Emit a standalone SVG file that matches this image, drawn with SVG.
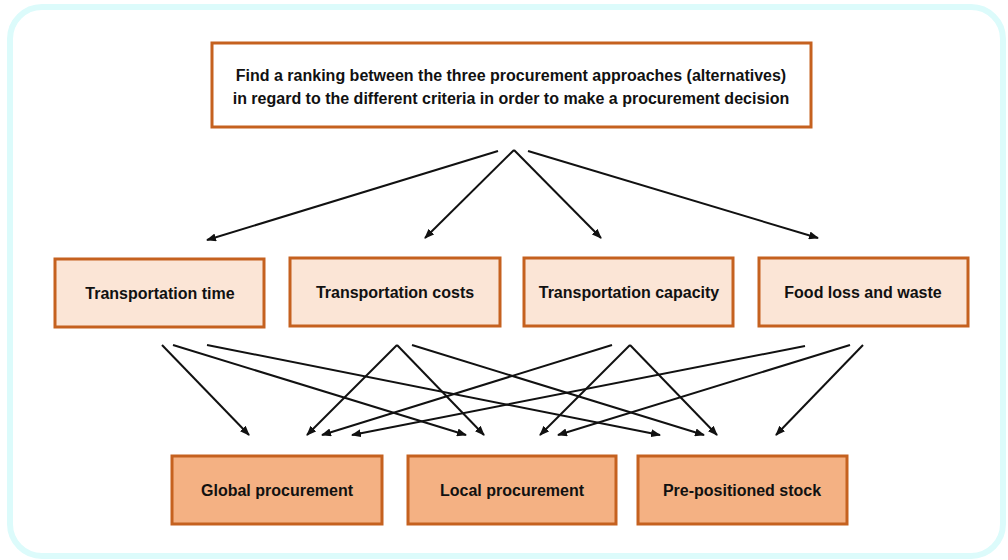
<svg xmlns="http://www.w3.org/2000/svg" width="1008" height="560" viewBox="0 0 1008 560">
<style>
.frame{fill:#ffffff;stroke:#dcfbfb;stroke-width:6}
.box{stroke:#c5611f;stroke-width:3}
.goal{fill:#ffffff}
.crit{fill:#fbe5d6}
.alt{fill:#f4b183}
.lbl{font-family:"Liberation Sans",Arial,sans-serif;font-weight:bold;font-size:16px;fill:#111111;text-anchor:middle}
.arr{stroke:#111111;stroke-width:2;fill:none;marker-end:url(#ah)}
</style>
<defs>
<marker id="ah" viewBox="0 0 10 8" refX="9" refY="4" markerWidth="10" markerHeight="8" markerUnits="userSpaceOnUse" orient="auto">
<path d="M0,0 L10,4 L0,8 Z" fill="#111111"/>
</marker>
</defs>
<rect class="frame" x="10" y="7" width="993" height="549" rx="32"/>
<g id="goal">
<rect class="box goal" x="212" y="43" width="599" height="84"/>
<text class="lbl" x="511" y="81">Find a ranking between the three procurement approaches (alternatives)</text>
<text class="lbl" x="511" y="104">in regard to the different criteria in order to make a procurement decision</text>
</g>
<g id="crit-time">
<rect class="box crit" x="55" y="259" width="209" height="68"/>
<text class="lbl" x="160" y="299">Transportation time</text>
</g>
<g id="crit-costs">
<rect class="box crit" x="290" y="258" width="210" height="68"/>
<text class="lbl" x="395" y="298">Transportation costs</text>
</g>
<g id="crit-capacity">
<rect class="box crit" x="524" y="258" width="209" height="68"/>
<text class="lbl" x="629" y="298">Transportation capacity</text>
</g>
<g id="crit-food">
<rect class="box crit" x="759" y="258" width="209" height="68"/>
<text class="lbl" x="863" y="298">Food loss and waste</text>
</g>
<g id="alt-global">
<rect class="box alt" x="172" y="456" width="210" height="68"/>
<text class="lbl" x="277" y="496">Global procurement</text>
</g>
<g id="alt-local">
<rect class="box alt" x="408" y="456" width="208" height="68"/>
<text class="lbl" x="512" y="496">Local procurement</text>
</g>
<g id="alt-stock">
<rect class="box alt" x="638" y="456" width="209" height="68"/>
<text class="lbl" x="742" y="496">Pre-positioned stock</text>
</g>
<g id="connectors">
<line class="arr" x1="498" y1="151" x2="207" y2="240"/>
<line class="arr" x1="514" y1="150" x2="425" y2="238"/>
<line class="arr" x1="514" y1="150" x2="601" y2="238"/>
<line class="arr" x1="528" y1="151" x2="818" y2="238"/>
<line class="arr" x1="162" y1="345" x2="249" y2="435"/>
<line class="arr" x1="173" y1="345" x2="466" y2="435"/>
<line class="arr" x1="207" y1="345" x2="660" y2="435"/>
<line class="arr" x1="397" y1="345" x2="307" y2="435"/>
<line class="arr" x1="397" y1="345" x2="484" y2="435"/>
<line class="arr" x1="412" y1="345" x2="704" y2="435"/>
<line class="arr" x1="612" y1="345" x2="322" y2="435"/>
<line class="arr" x1="630" y1="345" x2="540" y2="435"/>
<line class="arr" x1="630" y1="345" x2="717" y2="435"/>
<line class="arr" x1="805" y1="346" x2="352" y2="435"/>
<line class="arr" x1="850" y1="345" x2="558" y2="435"/>
<line class="arr" x1="863" y1="345" x2="776" y2="435"/>
</g>
</svg>
